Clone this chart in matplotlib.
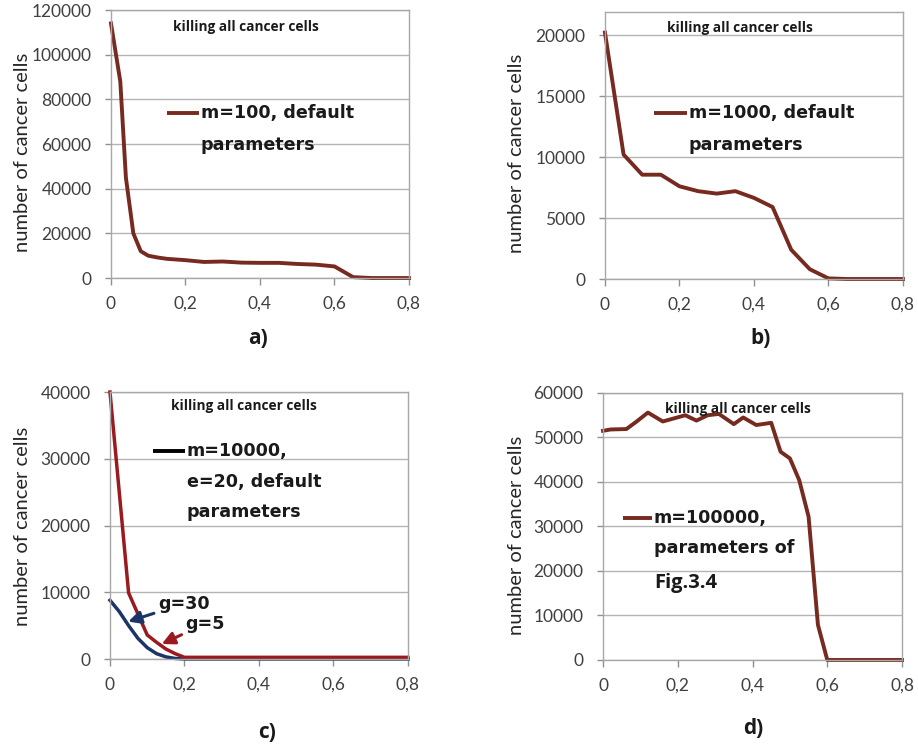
import matplotlib
matplotlib.use("Agg")
import matplotlib.pyplot as plt
from matplotlib.lines import Line2D

# ---------------- data ----------------
xa = [0, 0.025, 0.04, 0.06, 0.08, 0.1, 0.125, 0.15, 0.2, 0.25, 0.3, 0.35, 0.4, 0.45, 0.5, 0.55, 0.6, 0.65, 0.7, 0.75, 0.8]
ya = [114000, 88000, 45000, 20000, 12000, 10000, 9200, 8600, 8000, 7200, 7400, 6900, 6800, 6800, 6300, 6000, 5200, 400, 0, 0, 0]

xb = [0, 0.05, 0.1, 0.15, 0.2, 0.25, 0.3, 0.35, 0.4, 0.45, 0.5, 0.55, 0.6, 0.65, 0.7, 0.75, 0.8]
yb = [20200, 10200, 8550, 8550, 7600, 7200, 7000, 7200, 6650, 5900, 2400, 800, 50, 0, 0, 0, 0]

xc = [0, 0.05, 0.1, 0.125, 0.15, 0.175, 0.2, 0.3, 0.4, 0.5, 0.6, 0.7, 0.8]
yc_g5 = [40000, 9900, 3600, 2500, 1500, 800, 250, 250, 250, 250, 250, 250, 250]
xc30 = [0, 0.025, 0.05, 0.075, 0.1, 0.125, 0.15, 0.175, 0.2, 0.3, 0.4, 0.5, 0.6, 0.7, 0.8]
yc_g30 = [8800, 7100, 5000, 3100, 1700, 800, 320, 80, 0, 0, 0, 0, 0, 0, 0]

xd = [0, 0.02, 0.0625, 0.09, 0.12, 0.16, 0.19, 0.22, 0.25, 0.28, 0.31, 0.35, 0.375, 0.41, 0.45, 0.475, 0.5, 0.525, 0.55, 0.575, 0.6, 0.7, 0.8]
yd = [51500, 51800, 51900, 53600, 55600, 53600, 54300, 55000, 53800, 55000, 55300, 53000, 54500, 52800, 53300, 46800, 45300, 40400, 32200, 7900, 0, 0, 0]

xticks = [0, 0.2, 0.4, 0.6, 0.8]
xtick_labels = ["0", "0,2", "0,4", "0,6", "0,8"]

# ---------------- style ----------------
BROWN = "#762a20"
RED = "#9a1b1f"
NAVY = "#1d3566"
GRID = "#b4b4b4"
TICKC = "#404040"
SMALL_FONT = "Lato"
BOLD_FONT = "Open Sans"
LEG_FONT = "DejaVu Sans"

fig = plt.figure(figsize=(9.18, 7.47), dpi=100)
fig.patch.set_facecolor("white")

rects = {
    "a": [0.1209, 0.6278, 0.3246, 0.3588],
    "b": [0.6590, 0.6265, 0.3246, 0.3574],
    "c": [0.1198, 0.1178, 0.3246, 0.3574],
    "d": [0.6569, 0.1165, 0.3257, 0.3574],
}


def style_axes(ax, ymax, yticks, kpos):
    ax.set_xlim(0, 0.8)
    ax.set_ylim(0, ymax)
    ax.set_xticks(xticks)
    ax.set_xticklabels(xtick_labels)
    ax.set_yticks(yticks)
    ax.set_yticklabels([str(v) for v in yticks])
    for lab in ax.get_xticklabels() + ax.get_yticklabels():
        lab.set_fontfamily(SMALL_FONT)
        lab.set_fontsize(12.5)
        lab.set_color(TICKC)
    ax.tick_params(axis="x", direction="out", length=5, width=1, color="#909090", pad=8)
    ax.tick_params(axis="y", direction="out", length=4, width=1, color="#909090", pad=10)
    for s in ax.spines.values():
        s.set_color("#a8a8a8")
        s.set_linewidth(1.0)
    ax.yaxis.grid(True, color=GRID, linewidth=1.0)
    ax.set_axisbelow(True)
    ax.text(kpos[0], kpos[1], "killing all cancer cells", transform=ax.transAxes,
            ha="center", va="center", fontsize=9.8, fontweight="bold",
            fontfamily=BOLD_FONT, color="#1a1a1a")


def legend_key(ax, x0, x1, y, color, lines, ys):
    ax.add_line(Line2D([x0, x1], [y, y], transform=ax.transAxes, color=color,
                       linewidth=2.8, solid_capstyle="butt"))
    for txt, yy in zip(lines, ys):
        ax.text(x1 + 0.006, yy, txt, transform=ax.transAxes, ha="left", va="center",
                fontsize=12.6, fontweight="bold", fontfamily=LEG_FONT, color="#1a1a1a")


# panel a
ax = fig.add_axes(rects["a"])
ax.plot(xa, ya, color=BROWN, linewidth=2.8, solid_joinstyle="round", clip_on=False)
style_axes(ax, 120000, [0, 20000, 40000, 60000, 80000, 100000, 120000], (0.453, 0.937))
legend_key(ax, 0.188, 0.295, 0.616, BROWN, ["m=100, default", "parameters"], [0.616, 0.496])

# panel b
ax = fig.add_axes(rects["b"])
ax.plot(xb, yb, color=BROWN, linewidth=2.8, solid_joinstyle="round", clip_on=False)
style_axes(ax, 21885, [0, 5000, 10000, 15000, 20000], (0.453, 0.94))
legend_key(ax, 0.164, 0.275, 0.622, BROWN, ["m=1000, default", "parameters"], [0.622, 0.502])

# panel c
ax = fig.add_axes(rects["c"])
ax.plot(xc30, yc_g30, color=NAVY, linewidth=2.5, solid_joinstyle="round", clip_on=False)
ax.plot(xc, yc_g5, color=RED, linewidth=2.5, solid_joinstyle="round", clip_on=False)
style_axes(ax, 40000, [0, 10000, 20000, 30000, 40000], (0.45, 0.948))
legend_key(ax, 0.144, 0.252, 0.779, "black", ["m=10000,", "e=20, default", "parameters"],
           [0.779, 0.663, 0.551])
ax.annotate("g=30", xy=(0.049, 5600), xytext=(0.129, 8300), ha="left", va="center",
            fontsize=12.6, fontweight="bold", fontfamily=LEG_FONT, color="#1a1a1a",
            arrowprops=dict(arrowstyle="-|>,head_length=0.6,head_width=0.3", color=NAVY,
                            lw=2.2, shrinkA=1, shrinkB=0))
ax.annotate("g=5", xy=(0.139, 2250), xytext=(0.203, 5300), ha="left", va="center",
            fontsize=12.6, fontweight="bold", fontfamily=LEG_FONT, color="#1a1a1a",
            arrowprops=dict(arrowstyle="-|>,head_length=0.6,head_width=0.3", color=RED,
                            lw=2.2, shrinkA=1, shrinkB=0))

# panel d
ax = fig.add_axes(rects["d"])
ax.plot(xd, yd, color=BROWN, linewidth=2.8, solid_joinstyle="round", clip_on=False)
style_axes(ax, 60000, [0, 10000, 20000, 30000, 40000, 50000, 60000], (0.452, 0.94))
legend_key(ax, 0.067, 0.164, 0.532, BROWN, ["m=100000,", "parameters of"], [0.532, 0.419])
ax.text(0.17, 0.288, "Fig.3.4", transform=ax.transAxes, ha="left", va="center",
        fontsize=14.5, fontweight="bold", fontfamily=BOLD_FONT, color="#1a1a1a")

# y labels
for xf, yf in [(0.025, 1 - 152 / 747), (0.563, 1 - 153 / 747), (0.025, 1 - 526 / 747), (0.563, 1 - 535 / 747)]:
    fig.text(xf, yf, "number of cancer cells", rotation=90, ha="center", va="center",
             fontsize=14.5, fontfamily=SMALL_FONT, color="#262626")

# panel letters
for txt, xf, yf in [("a)", 0.2810, 1 - 338 / 747), ("b)", 0.8290, 1 - 338 / 747),
                    ("c)", 0.2909, 1 - 732 / 747), ("d)", 0.8203, 1 - 728 / 747)]:
    fig.text(xf, yf, txt, ha="center", va="center", fontsize=15, fontweight="bold",
             fontfamily=BOLD_FONT, color="#1a1a1a")

fig.savefig("out.png", dpi=100, facecolor="white")
